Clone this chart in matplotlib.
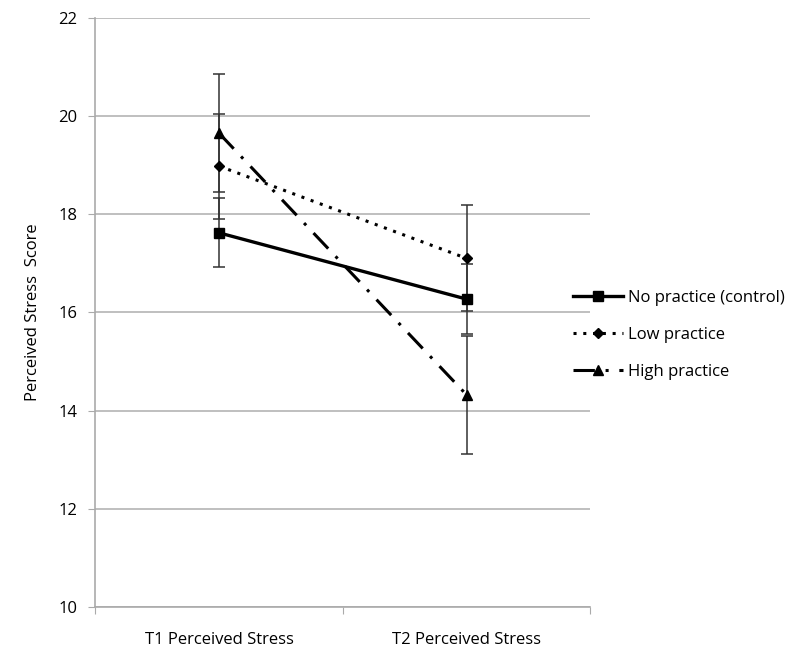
import matplotlib.pyplot as plt
import numpy as np

plt.rcParams['font.family'] = ['Open Sans', 'DejaVu Sans']

times = ['T1 Perceived Stress', 'T2 Perceived Stress']
groups = ['No practice (control)', 'Low practice', 'High practice']
control = [17.62, 16.27]
control_err = [0.70, 0.72]
low = [18.98, 17.10]
low_err = [1.07, 1.08]
high = [19.65, 14.32]
high_err = [1.20, 1.20]

fig = plt.figure(figsize=(8, 6.59), dpi=100)
ax = fig.add_axes([0.119, 0.079, 0.619, 0.894])

x = np.array([0.5, 1.5])
styles = [
    (control, control_err, '-', 's', 7.5, 2.4),
    (low, low_err, (0, (1, 2.2)), 'D', 5.5, 2.2),
    (high, high_err, (0, (7, 3.5, 1, 3.5)), '^', 7.5, 2.2),
]
handles = []
for (vals, err, ls, mk, ms, lw), name in zip(styles, groups):
    ax.errorbar(x, vals, yerr=err, fmt='none', ecolor='#333333', elinewidth=1.1,
                capsize=4, capthick=1.1, zorder=3)
    h, = ax.plot(x, vals, linestyle=ls, color='black', linewidth=lw, marker=mk,
                 markersize=ms, zorder=4, label=name)
    handles.append(h)

ax.set_xlim(0, 2)
ax.set_ylim(10, 22)
ax.set_yticks(np.arange(10, 23, 2))
ax.set_xticks([0, 1, 2])
ax.set_xticklabels([])
ax.set_xticks(x, minor=True)
ax.set_xticklabels(times, minor=True, fontsize=12)
ax.tick_params(axis='x', which='minor', length=0, pad=18)
ax.tick_params(axis='x', which='major', length=5, color='#aaaaaa', direction='out')
ax.tick_params(axis='y', length=5, color='#aaaaaa', labelsize=12, pad=8)
ax.grid(axis='y', color='#b4b4b4', linewidth=1.2)
ax.set_axisbelow(True)
for s in ['top', 'right']:
    ax.spines[s].set_visible(False)
for s in ['left', 'bottom']:
    ax.spines[s].set_color('#aaaaaa')
    ax.spines[s].set_linewidth(1.2)
ax.set_ylabel('Perceived Stress  Score', fontsize=12, labelpad=12)

fig.legend(handles=handles, loc='center left', bbox_to_anchor=(0.697, 0.492),
           frameon=False, fontsize=12, handlelength=3.0, labelspacing=1.25,
           handletextpad=0.3)

fig.savefig('out.png', dpi=100)
